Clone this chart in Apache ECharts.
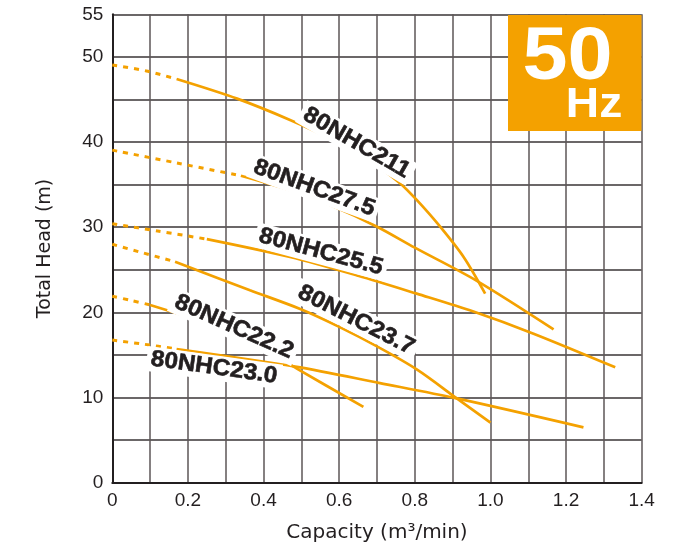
<!DOCTYPE html>
<html><head><meta charset="utf-8">
<script src="https://cdn.jsdelivr.net/npm/echarts@6/dist/echarts.min.js"></script>
<style>html,body{margin:0;padding:0;background:#fff}#c{width:691px;height:550px}</style>
</head><body><div id="c"></div>
<script>
// ---- tick labels ----
const xTickLabels = ['0','0.2','0.4','0.6','0.8','1.0','1.2','1.4'];
const yTickLabels = [0,10,20,30,40,50,55];

// ---- curve names ----
const curveNames = ['80NHC211','80NHC27.5','80NHC25.5','80NHC23.7','80NHC22.2','80NHC23.0'];

// ---- curve data [capacity m3/min, head m]; dotted = extrapolated part ----
const dotted211 = [[0,49.05],[0.09,48.35],[0.17,47.4]];
const solid211  = [[0.17,47.4],[0.33,45.1],[0.47,42.6],[0.576,40.4],[0.69,37.5],[0.76,35.2],[0.805,33.2],[0.867,30.06],[0.929,26.5],[0.986,22.2]];

const dotted275 = [[0,39.05],[0.17,37.55],[0.34,36.05]];
const solid275  = [[0.34,36.05],[0.47,34.35],[0.576,32.6],[0.7,30.06],[0.8,27.6],[0.964,23.7],[1.167,18.0]];

const dotted255 = [[0,30.4],[0.12,29.55],[0.25,28.6]];
const solid255  = [[0.25,28.6],[0.47,26.5],[0.65,24.3],[0.805,22.2],[0.955,20.1],[1.114,17.5],[1.33,13.55]];

const dotted237 = [[0,28.0],[0.08,27.0],[0.166,25.95]];
const solid237  = [[0.166,25.95],[0.364,22.6],[0.497,20.4],[0.6,18.3],[0.7,16.0],[0.805,13.3],[0.911,9.9],[1.0,7.05]];

const dotted222 = [[0,21.9],[0.05,21.4],[0.1,20.87]];
const solid222  = [[0.1,20.87],[0.276,18.3],[0.39,15.97],[0.488,13.4],[0.664,8.9]];

const dotted230 = [[0,16.75],[0.085,16.25],[0.17,15.7]];
const solid230  = [[0.17,15.7],[0.488,13.6],[0.708,11.7],[0.911,9.9],[1.246,6.5]];

// ---- curve label anchors (data coords) and angles (deg) ----
const labelAnchors = [[0.646,39.9],[0.534,34.6],[0.552,27.1],[0.645,19.1],[0.322,18.3],[0.269,13.5]];
const labelAngles  = [30,20,15,27,24,8];

const ORANGE = '#F4A100';
const INK = '#231f20';

const dottedSets = [dotted211,dotted275,dotted255,dotted237,dotted222,dotted230];
const solidSets  = [solid211,solid275,solid255,solid237,solid222,solid230];

const series = [];
curveNames.forEach((n,i)=>{
  series.push({name:n+' (ext)', type:'line', data:dottedSets[i], smooth:0.3, showSymbol:false, silent:true,
    lineStyle:{color:ORANGE, width:3, type:[5,6]}, z:3});
  series.push({name:n, type:'line', data:solidSets[i], smooth:0.3, showSymbol:false, silent:true,
    lineStyle:{color:ORANGE, width:2.7}, z:3});
});

const chart = echarts.init(document.getElementById('c'), null, {renderer:'canvas'});
chart.setOption({
  animation:false,
  backgroundColor:'#fff',
  grid:{left:112.3, right:49.3, top:14.3, bottom:67.3},
  xAxis:{type:'value', min:0, max:1.4, interval:0.1,
    name:'Capacity (m³/min)', nameLocation:'middle', nameGap:40,
    nameTextStyle:{fontFamily:'DejaVu Sans', fontSize:20, color:INK},
    axisLine:{show:true, lineStyle:{color:INK, width:2}},
    axisTick:{show:false},
    axisLabel:{interval:0, margin:9, color:INK, fontFamily:'Liberation Sans', fontSize:19,
      formatter:v=>{const k=Math.round(v*10); return k%2?'':xTickLabels[k/2];}},
    splitLine:{show:true, lineStyle:{color:'#5c5657', width:1.5}}
  },
  yAxis:{type:'value', min:0, max:55, interval:5,
    name:'Total Head (m)', nameLocation:'middle', nameGap:58,
    nameTextStyle:{fontFamily:'DejaVu Sans', fontSize:19, color:INK},
    axisLine:{show:true, lineStyle:{color:INK, width:2}},
    axisTick:{show:false},
    axisLabel:{interval:0, margin:9, color:INK, fontFamily:'Liberation Sans', fontSize:19,
      formatter:v=>yTickLabels.includes(v)?String(v):''},
    splitLine:{show:true, lineStyle:{color:'#3a3536', width:1.5}}
  },
  series:series
});

const graphics = [];
curveNames.forEach((n,i)=>{
  const p = chart.convertToPixel({gridIndex:0}, labelAnchors[i]);
  graphics.push({type:'text', x:p[0], y:p[1], rotation:-labelAngles[i]*Math.PI/180, scaleX:1.06, z:50,
    style:{text:n, fontFamily:'Liberation Sans', fontWeight:'bold', fontSize:23, fill:INK,
      stroke:INK, lineWidth:0.6,
      align:'center', verticalAlign:'middle', backgroundColor:'#fff', padding:[1,4]}});
});
// 50 Hz badge
graphics.push({type:'rect', shape:{x:508, y:15, width:133.5, height:116}, style:{fill:ORANGE}, z:60});
graphics.push({type:'text', x:567.5, y:58, z:61, scaleX:1.08,
  style:{text:'50', fontFamily:'Liberation Sans', fontWeight:'bold', fontSize:75, fill:'#fff', align:'center', verticalAlign:'middle'}});
graphics.push({type:'text', x:594, y:105, z:61, scaleX:1.1,
  style:{text:'Hz', fontFamily:'Liberation Sans', fontWeight:'bold', fontSize:42, fill:'#fff', align:'center', verticalAlign:'middle'}});
chart.setOption({graphic:graphics});
</script>
</body></html>
